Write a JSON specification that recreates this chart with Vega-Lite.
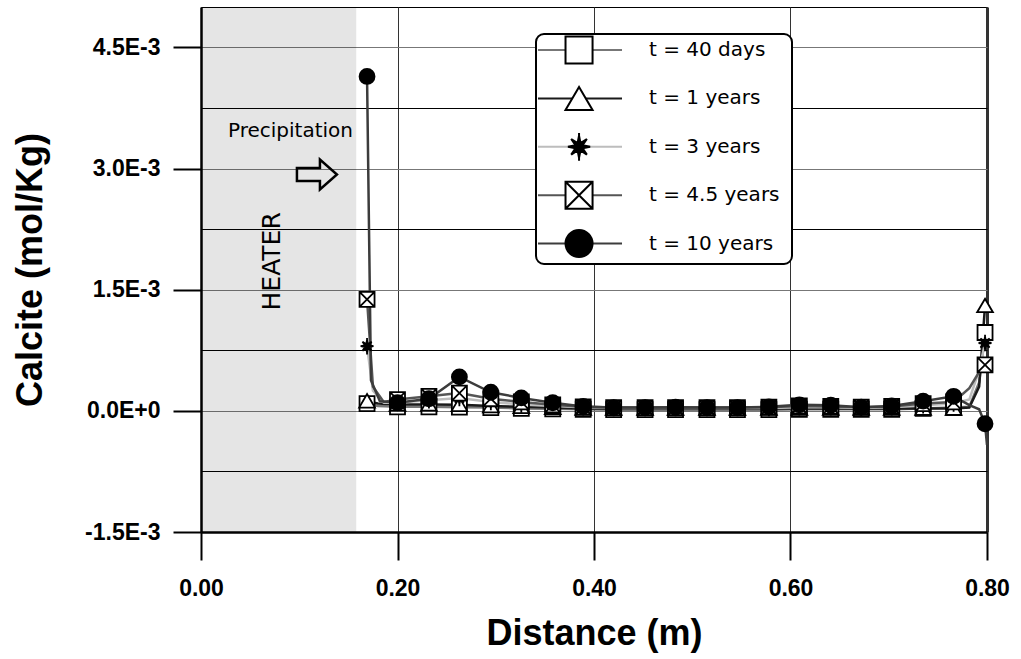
{
  "$schema": "https://vega.github.io/schema/vega-lite/v6.json",
  "width": 786,
  "height": 525,
  "autosize": {"type": "none"},
  "padding": {"left": 201, "top": 7, "right": 34, "bottom": 127},
  "background": "white",
  "config": {
    "view": {"stroke": "black", "strokeWidth": 1},
    "axis": {
      "labelFont": "Liberation Sans", "labelFontWeight": "bold", "labelFontSize": 23, "labelColor": "black",
      "titleFont": "Liberation Sans", "titleFontWeight": "bold", "titleFontSize": 36, "titleColor": "black",
      "domainColor": "black", "domainWidth": 2.5, "tickColor": "black", "tickSize": 28, "tickWidth": 2,
      "gridWidth": 1, "gridOpacity": 1
    }
  },
  "resolve": {"scale": {"shape": "independent", "fill": "independent"}},
  "datasets": {
    "profiles": [
      {"series": "t = 40 days", "distance": 0.169, "calcite": 0.09e-3},
      {"series": "t = 40 days", "distance": 0.18, "calcite": 0.06e-3},
      {"series": "t = 40 days", "distance": 0.200, "calcite": 0.05e-3},
      {"series": "t = 40 days", "distance": 0.232, "calcite": 0.05e-3},
      {"series": "t = 40 days", "distance": 0.263, "calcite": 0.045e-3},
      {"series": "t = 40 days", "distance": 0.295, "calcite": 0.04e-3},
      {"series": "t = 40 days", "distance": 0.326, "calcite": 0.03e-3},
      {"series": "t = 40 days", "distance": 0.358, "calcite": 0.025e-3},
      {"series": "t = 40 days", "distance": 0.389, "calcite": 0.02e-3},
      {"series": "t = 40 days", "distance": 0.420, "calcite": 0.015e-3},
      {"series": "t = 40 days", "distance": 0.452, "calcite": 0.015e-3},
      {"series": "t = 40 days", "distance": 0.483, "calcite": 0.015e-3},
      {"series": "t = 40 days", "distance": 0.515, "calcite": 0.015e-3},
      {"series": "t = 40 days", "distance": 0.546, "calcite": 0.015e-3},
      {"series": "t = 40 days", "distance": 0.578, "calcite": 0.015e-3},
      {"series": "t = 40 days", "distance": 0.609, "calcite": 0.02e-3},
      {"series": "t = 40 days", "distance": 0.641, "calcite": 0.02e-3},
      {"series": "t = 40 days", "distance": 0.672, "calcite": 0.02e-3},
      {"series": "t = 40 days", "distance": 0.703, "calcite": 0.02e-3},
      {"series": "t = 40 days", "distance": 0.735, "calcite": 0.03e-3},
      {"series": "t = 40 days", "distance": 0.766, "calcite": 0.04e-3},
      {"series": "t = 40 days", "distance": 0.782, "calcite": 0.05e-3},
      {"series": "t = 40 days", "distance": 0.792, "calcite": 0.35e-3},
      {"series": "t = 40 days", "distance": 0.798, "calcite": 0.97e-3},

      {"series": "t = 1 years", "distance": 0.169, "calcite": 0.12e-3},
      {"series": "t = 1 years", "distance": 0.18, "calcite": 0.09e-3},
      {"series": "t = 1 years", "distance": 0.200, "calcite": 0.08e-3},
      {"series": "t = 1 years", "distance": 0.232, "calcite": 0.08e-3},
      {"series": "t = 1 years", "distance": 0.263, "calcite": 0.075e-3},
      {"series": "t = 1 years", "distance": 0.295, "calcite": 0.06e-3},
      {"series": "t = 1 years", "distance": 0.326, "calcite": 0.05e-3},
      {"series": "t = 1 years", "distance": 0.358, "calcite": 0.04e-3},
      {"series": "t = 1 years", "distance": 0.389, "calcite": 0.03e-3},
      {"series": "t = 1 years", "distance": 0.420, "calcite": 0.03e-3},
      {"series": "t = 1 years", "distance": 0.452, "calcite": 0.03e-3},
      {"series": "t = 1 years", "distance": 0.483, "calcite": 0.03e-3},
      {"series": "t = 1 years", "distance": 0.515, "calcite": 0.03e-3},
      {"series": "t = 1 years", "distance": 0.546, "calcite": 0.03e-3},
      {"series": "t = 1 years", "distance": 0.578, "calcite": 0.03e-3},
      {"series": "t = 1 years", "distance": 0.609, "calcite": 0.03e-3},
      {"series": "t = 1 years", "distance": 0.641, "calcite": 0.03e-3},
      {"series": "t = 1 years", "distance": 0.672, "calcite": 0.03e-3},
      {"series": "t = 1 years", "distance": 0.703, "calcite": 0.03e-3},
      {"series": "t = 1 years", "distance": 0.735, "calcite": 0.03e-3},
      {"series": "t = 1 years", "distance": 0.766, "calcite": 0.03e-3},
      {"series": "t = 1 years", "distance": 0.782, "calcite": 0.04e-3},
      {"series": "t = 1 years", "distance": 0.792, "calcite": 0.3e-3},
      {"series": "t = 1 years", "distance": 0.798, "calcite": 1.30e-3},

      {"series": "t = 3 years", "distance": 0.169, "calcite": 0.80e-3},
      {"series": "t = 3 years", "distance": 0.175, "calcite": 0.25e-3},
      {"series": "t = 3 years", "distance": 0.186, "calcite": 0.10e-3},
      {"series": "t = 3 years", "distance": 0.200, "calcite": 0.10e-3},
      {"series": "t = 3 years", "distance": 0.232, "calcite": 0.13e-3},
      {"series": "t = 3 years", "distance": 0.263, "calcite": 0.16e-3},
      {"series": "t = 3 years", "distance": 0.295, "calcite": 0.11e-3},
      {"series": "t = 3 years", "distance": 0.326, "calcite": 0.08e-3},
      {"series": "t = 3 years", "distance": 0.358, "calcite": 0.06e-3},
      {"series": "t = 3 years", "distance": 0.389, "calcite": 0.045e-3},
      {"series": "t = 3 years", "distance": 0.420, "calcite": 0.035e-3},
      {"series": "t = 3 years", "distance": 0.452, "calcite": 0.035e-3},
      {"series": "t = 3 years", "distance": 0.483, "calcite": 0.035e-3},
      {"series": "t = 3 years", "distance": 0.515, "calcite": 0.035e-3},
      {"series": "t = 3 years", "distance": 0.546, "calcite": 0.035e-3},
      {"series": "t = 3 years", "distance": 0.578, "calcite": 0.035e-3},
      {"series": "t = 3 years", "distance": 0.609, "calcite": 0.045e-3},
      {"series": "t = 3 years", "distance": 0.641, "calcite": 0.045e-3},
      {"series": "t = 3 years", "distance": 0.672, "calcite": 0.035e-3},
      {"series": "t = 3 years", "distance": 0.703, "calcite": 0.045e-3},
      {"series": "t = 3 years", "distance": 0.735, "calcite": 0.07e-3},
      {"series": "t = 3 years", "distance": 0.766, "calcite": 0.09e-3},
      {"series": "t = 3 years", "distance": 0.782, "calcite": 0.14e-3},
      {"series": "t = 3 years", "distance": 0.792, "calcite": 0.5e-3},
      {"series": "t = 3 years", "distance": 0.798, "calcite": 0.84e-3},

      {"series": "t = 4.5 years", "distance": 0.169, "calcite": 1.38e-3},
      {"series": "t = 4.5 years", "distance": 0.175, "calcite": 0.30e-3},
      {"series": "t = 4.5 years", "distance": 0.186, "calcite": 0.11e-3},
      {"series": "t = 4.5 years", "distance": 0.200, "calcite": 0.14e-3},
      {"series": "t = 4.5 years", "distance": 0.232, "calcite": 0.18e-3},
      {"series": "t = 4.5 years", "distance": 0.263, "calcite": 0.22e-3},
      {"series": "t = 4.5 years", "distance": 0.295, "calcite": 0.15e-3},
      {"series": "t = 4.5 years", "distance": 0.326, "calcite": 0.11e-3},
      {"series": "t = 4.5 years", "distance": 0.358, "calcite": 0.075e-3},
      {"series": "t = 4.5 years", "distance": 0.389, "calcite": 0.05e-3},
      {"series": "t = 4.5 years", "distance": 0.420, "calcite": 0.04e-3},
      {"series": "t = 4.5 years", "distance": 0.452, "calcite": 0.04e-3},
      {"series": "t = 4.5 years", "distance": 0.483, "calcite": 0.04e-3},
      {"series": "t = 4.5 years", "distance": 0.515, "calcite": 0.04e-3},
      {"series": "t = 4.5 years", "distance": 0.546, "calcite": 0.04e-3},
      {"series": "t = 4.5 years", "distance": 0.578, "calcite": 0.045e-3},
      {"series": "t = 4.5 years", "distance": 0.609, "calcite": 0.06e-3},
      {"series": "t = 4.5 years", "distance": 0.641, "calcite": 0.055e-3},
      {"series": "t = 4.5 years", "distance": 0.672, "calcite": 0.045e-3},
      {"series": "t = 4.5 years", "distance": 0.703, "calcite": 0.055e-3},
      {"series": "t = 4.5 years", "distance": 0.735, "calcite": 0.09e-3},
      {"series": "t = 4.5 years", "distance": 0.766, "calcite": 0.11e-3},
      {"series": "t = 4.5 years", "distance": 0.782, "calcite": 0.28e-3},
      {"series": "t = 4.5 years", "distance": 0.792, "calcite": 0.48e-3},
      {"series": "t = 4.5 years", "distance": 0.798, "calcite": 0.57e-3},

      {"series": "t = 10 years", "distance": 0.169, "calcite": 4.14e-3},
      {"series": "t = 10 years", "distance": 0.173, "calcite": 0.38e-3},
      {"series": "t = 10 years", "distance": 0.182, "calcite": 0.12e-3},
      {"series": "t = 10 years", "distance": 0.200, "calcite": 0.10e-3},
      {"series": "t = 10 years", "distance": 0.232, "calcite": 0.15e-3},
      {"series": "t = 10 years", "distance": 0.263, "calcite": 0.42e-3},
      {"series": "t = 10 years", "distance": 0.295, "calcite": 0.23e-3},
      {"series": "t = 10 years", "distance": 0.326, "calcite": 0.16e-3},
      {"series": "t = 10 years", "distance": 0.358, "calcite": 0.10e-3},
      {"series": "t = 10 years", "distance": 0.389, "calcite": 0.055e-3},
      {"series": "t = 10 years", "distance": 0.420, "calcite": 0.04e-3},
      {"series": "t = 10 years", "distance": 0.452, "calcite": 0.04e-3},
      {"series": "t = 10 years", "distance": 0.483, "calcite": 0.045e-3},
      {"series": "t = 10 years", "distance": 0.515, "calcite": 0.04e-3},
      {"series": "t = 10 years", "distance": 0.546, "calcite": 0.04e-3},
      {"series": "t = 10 years", "distance": 0.578, "calcite": 0.05e-3},
      {"series": "t = 10 years", "distance": 0.609, "calcite": 0.075e-3},
      {"series": "t = 10 years", "distance": 0.641, "calcite": 0.07e-3},
      {"series": "t = 10 years", "distance": 0.672, "calcite": 0.045e-3},
      {"series": "t = 10 years", "distance": 0.703, "calcite": 0.06e-3},
      {"series": "t = 10 years", "distance": 0.735, "calcite": 0.12e-3},
      {"series": "t = 10 years", "distance": 0.766, "calcite": 0.18e-3},
      {"series": "t = 10 years", "distance": 0.782, "calcite": 0.07e-3},
      {"series": "t = 10 years", "distance": 0.792, "calcite": 0.02e-3},
      {"series": "t = 10 years", "distance": 0.798, "calcite": -0.16e-3},
      {"series": "t = 10 years", "distance": 0.8, "calcite": -0.42e-3}
    ]
  },
  "layer": [
    {
      "data": {"values": [{"zone": "heater", "from": 0, "to": 0.158}]},
      "mark": {"type": "rect", "fill": "black", "fillOpacity": 0.1},
      "encoding": {
        "x": {"field": "from", "type": "quantitative"},
        "x2": {"field": "to"},
        "y": {"datum": -1.5e-3, "type": "quantitative"},
        "y2": {"datum": 5.0e-3}
      }
    },
    {
      "data": {"name": "profiles"},
      "mark": {"type": "line", "strokeWidth": 2.5, "interpolate": "linear"},
      "encoding": {
        "x": {
          "field": "distance", "type": "quantitative", "title": "Distance (m)",
          "scale": {"domain": [0, 0.8], "nice": false, "zero": false},
          "axis": {
            "values": [0, 0.2, 0.4, 0.6, 0.8], "format": ".2f", "grid": true, "gridColor": "#333",
            "gridWidth": {"condition": {"test": "datum.value > 0.79", "value": 3}, "value": 1},
            "labelPadding": 17, "titlePadding": 16, "labelFlush": false, "labelOverlap": false
          }
        },
        "y": {
          "field": "calcite", "type": "quantitative", "title": "Calcite (mol/Kg)",
          "scale": {"domain": [-1.5e-3, 5.0e-3], "nice": false, "zero": false},
          "axis": {
            "values": [-1.5e-3, -0.75e-3, 0, 0.75e-3, 1.5e-3, 2.25e-3, 3.0e-3, 3.75e-3, 4.5e-3],
            "labelExpr": "abs(datum.value / 0.0015 - round(datum.value / 0.0015)) < 0.01 ? replace(upper(format(datum.value, '.1e')), '\u2212', '-') : ''",
            "grid": true,
            "gridColor": {"condition": {"test": "abs(datum.value / 0.0015 - round(datum.value / 0.0015)) < 0.01", "value": "#777777"}, "value": "black"},
            "tickColor": {"condition": {"test": "abs(datum.value / 0.0015 - round(datum.value / 0.0015)) < 0.01", "value": "black"}, "value": "transparent"},
            "labelPadding": 13, "titlePadding": 35, "labelOverlap": false
          }
        },
        "stroke": {
          "field": "series", "type": "nominal",
          "scale": {
            "domain": ["t = 40 days", "t = 1 years", "t = 3 years", "t = 4.5 years", "t = 10 years"],
            "range": ["#777777", "#1a1a1a", "#bdbdbd", "#555555", "#3c3c3c"]
          },
          "legend": {
            "orient": "none", "legendX": 335, "legendY": 27, "title": null, "padding": 2,
            "symbolType": "M-1.077,-1.1M-1.077,1.1M17.95,0M-1.077,0H5.385",
            "symbolSize": 676, "symbolStrokeWidth": 2,
            "labelFont": "DejaVu Sans", "labelFontSize": 20, "labelColor": "black", "labelOffset": 83,
            "rowPadding": 10.4, "fillColor": "white", "strokeColor": "black", "cornerRadius": 8,
            "encode": {"legend": {"update": {"strokeWidth": {"value": 2}}}}
          }
        }
      }
    },
    {
      "data": {"name": "profiles"},
      "transform": [
        {"filter": {"field": "distance", "oneOf": [0.169, 0.200, 0.232, 0.263, 0.295, 0.326, 0.358, 0.389, 0.420, 0.452, 0.483, 0.515, 0.546, 0.578, 0.609, 0.641, 0.672, 0.703, 0.735, 0.766, 0.798]}}
      ],
      "mark": {"type": "point", "filled": true, "size": 225, "stroke": "black", "strokeWidth": 1.8, "opacity": 1, "fillOpacity": 1, "strokeOpacity": 1},
      "encoding": {
        "x": {"field": "distance", "type": "quantitative"},
        "y": {"field": "calcite", "type": "quantitative"},
        "shape": {
          "field": "series", "type": "nominal", "legend": null,
          "scale": {
            "domain": ["t = 40 days", "t = 1 years", "t = 3 years", "t = 4.5 years", "t = 10 years"],
            "range": [
              "M-1,-1H1V1H-1Z",
              "M0,-0.95L1.05,0.85L-1.05,0.85Z",
              "M0.85,0L0.277,0.115L0.601,0.601L0.115,0.277L0,0.85L-0.115,0.277L-0.601,0.601L-0.277,0.115L-0.85,0L-0.277,-0.115L-0.601,-0.601L-0.115,-0.277L0,-0.85L0.115,-0.277L0.601,-0.601L0.277,-0.115ZM0,-1.1V1.1",
              "M-1,-1H1V1H-1ZM-1,-1L1,1M1,-1L-1,1",
              "circle"
            ]
          }
        },
        "fill": {
          "field": "series", "type": "nominal", "legend": null,
          "scale": {
            "domain": ["t = 40 days", "t = 1 years", "t = 3 years", "t = 4.5 years", "t = 10 years"],
            "range": ["white", "white", "black", "white", "black"]
          }
        }
      }
    },
    {
      "data": {"name": "profiles"},
      "transform": [{"filter": "false"}],
      "mark": {"type": "point", "filled": true, "stroke": "black", "strokeWidth": 2, "opacity": 1},
      "encoding": {
        "x": {"field": "distance", "type": "quantitative"},
        "y": {"field": "calcite", "type": "quantitative"},
        "shape": {
          "field": "series", "type": "nominal",
          "scale": {
            "domain": ["t = 40 days", "t = 1 years", "t = 3 years", "t = 4.5 years", "t = 10 years"],
            "range": [
              "M2.08,-1.1M2.08,1.1M1.04,-1.04H3.12V1.04H1.04Z",
              "M2.08,-1.1M2.08,1.1M2.08,-0.87L3.12,0.9L1.04,0.9Z",
              "M2.93,0L2.357,0.115L2.681,0.601L2.195,0.277L2.08,0.85L1.965,0.277L1.479,0.601L1.803,0.115L1.23,0L1.803,-0.115L1.479,-0.601L1.965,-0.277L2.08,-0.85L2.195,-0.277L2.681,-0.601L2.357,-0.115ZM2.08,-1.07V1.07M2.08,-1.1M2.08,1.1",
              "M2.08,-1.1M2.08,1.1M1.04,-1.04H3.12V1.04H1.04ZM1.04,-1.04L3.12,1.04M3.12,-1.04L1.04,1.04",
              "M2.08,-1.1M2.08,1.1M3.12,0A1.04,1.04,0,1,1,1.04,0A1.04,1.04,0,1,1,3.12,0Z"
            ]
          },
          "legend": {
            "orient": "none", "legendX": 335, "legendY": 27, "title": null, "padding": 2,
            "symbolSize": 676, "symbolStrokeWidth": 2, "symbolStrokeColor": "black", "symbolOpacity": 1,
            "labelFont": "DejaVu Sans", "labelFontSize": 20, "labelOffset": 83,
            "labelExpr": "''",
            "rowPadding": 10.4,
            "encode": {"symbols": {"update": {"stroke": {"value": "black"}, "strokeWidth": {"value": 2}}}}
          }
        },
        "fill": {
          "field": "series", "type": "nominal",
          "scale": {
            "domain": ["t = 40 days", "t = 1 years", "t = 3 years", "t = 4.5 years", "t = 10 years"],
            "range": ["white", "white", "black", "white", "black"]
          },
          "legend": {
            "orient": "none", "legendX": 335, "legendY": 27, "title": null, "padding": 2,
            "symbolSize": 676, "symbolStrokeWidth": 2, "symbolStrokeColor": "black", "symbolOpacity": 1,
            "labelFont": "DejaVu Sans", "labelFontSize": 20, "labelOffset": 83,
            "labelExpr": "''",
            "rowPadding": 10.4,
            "encode": {"symbols": {"update": {"stroke": {"value": "black"}, "strokeWidth": {"value": 2}}}}
          }
        }
      }
    },
    {
      "data": {"values": [{"note": "Precipitation"}]},
      "mark": {"type": "text", "font": "DejaVu Sans", "fontSize": 20, "align": "center", "baseline": "alphabetic", "color": "black"},
      "encoding": {
        "text": {"field": "note"},
        "x": {"datum": 0.0911},
        "y": {"datum": 3.388e-3}
      }
    },
    {
      "data": {"values": [{"note": "front direction"}]},
      "mark": {"type": "point", "shape": "M-1,-0.32H0.15V-0.75L1,0L0.15,0.75V0.32H-1Z", "size": 1600, "filled": false, "stroke": "black", "strokeWidth": 2.5, "opacity": 1},
      "encoding": {
        "x": {"datum": 0.118},
        "y": {"datum": 2.926e-3}
      }
    },
    {
      "data": {"values": [{"note": "HEATER"}]},
      "mark": {"type": "text", "font": "DejaVu Sans", "fontSize": 25, "angle": 270, "align": "center", "baseline": "alphabetic", "color": "black"},
      "encoding": {
        "text": {"field": "note"},
        "x": {"datum": 0.0804},
        "y": {"datum": 1.851e-3}
      }
    }
  ]
}
